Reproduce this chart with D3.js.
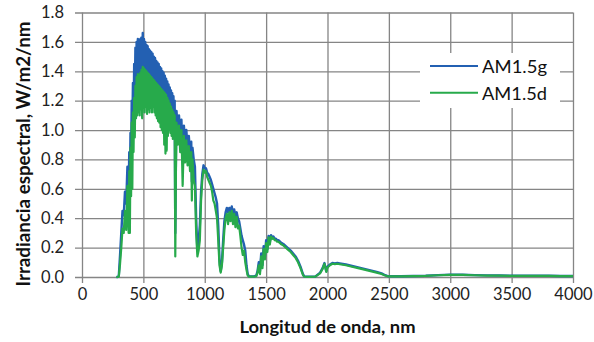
<!DOCTYPE html>
<html><head><meta charset="utf-8">
<script src="https://cdn.jsdelivr.net/npm/d3@7"></script>
<style>body{margin:0;background:#fff} svg{display:block}</style>
</head><body>
<svg id="c" width="594" height="342"></svg>
<script>
const wavelength = [
280,290,295,300,310,320,330,340,350,360,
370,380,385,390,395,400,405,410,415,420,
425,430,435,440,445,450,455,460,465,470,
475,480,485,490,495,500,505,510,515,520,
525,530,535,540,545,550,555,560,565,570,
575,580,585,590,595,600,605,610,615,620,
625,630,635,640,645,650,655,660,665,670,
675,680,685,690,695,700,705,710,715,720,
725,730,735,740,745,750,755,760,765,770,
780,790,800,810,820,830,840,850,860,870,
880,890,895,900,910,920,930,940,950,960,
970,980,990,1000,1010,1020,1030,1040,1050,1060,
1070,1080,1090,1100,1110,1120,1130,1140,1150,1160,
1170,1180,1190,1200,1210,1220,1230,1240,1250,1260,
1270,1280,1290,1300,1310,1320,1330,1340,1350,1360,
1380,1400,1420,1430,1440,1450,1460,1470,1480,1490,
1500,1510,1520,1530,1540,1550,1560,1570,1580,1590,
1600,1620,1640,1660,1680,1700,1720,1740,1760,1780,
1800,1810,1850,1900,1940,1960,1975,1990,2000,2020,
2040,2060,2080,2100,2150,2200,2250,2300,2350,2400,
2440,2470,2490,2500,2600,2700,2800,2900,3000,3100,
3200,3300,3400,3500,3600,3700,3800,3900,4000];

const am15g = [
0,0,0.003,0.01,0.15,0.30,0.45,0.42,0.58,0.50,
0.75,0.58,0.85,0.62,0.98,0.80,1.20,1.00,1.32,1.05,
1.45,1.20,1.56,1.28,1.60,1.34,1.62,1.35,1.61,1.35,
1.62,1.37,1.63,1.39,1.66,1.40,1.62,1.39,1.60,1.38,
1.58,1.37,1.57,1.36,1.55,1.35,1.54,1.34,1.53,1.33,
1.52,1.32,1.50,1.31,1.49,1.30,1.47,1.29,1.46,1.28,
1.45,1.27,1.43,1.26,1.42,1.25,1.40,1.24,1.39,1.23,
1.37,1.22,1.35,1.20,1.33,1.18,1.31,1.16,1.29,1.14,
1.27,1.12,1.25,1.10,1.23,1.08,1.20,0.30,0.80,1.13,
1.00,1.10,0.98,1.07,0.80,1.03,0.92,1.00,0.88,0.96,
0.85,0.92,0.65,0.88,0.80,0.75,0.40,0.18,0.25,0.35,
0.58,0.70,0.76,0.74,0.74,0.71,0.70,0.68,0.66,0.63,
0.60,0.57,0.54,0.50,0.35,0.12,0.04,0.10,0.25,0.38,
0.44,0.47,0.44,0.47,0.44,0.48,0.43,0.46,0.41,0.44,
0.40,0.38,0.33,0.28,0.25,0.22,0.18,0.08,0.02,0.005,
0.004,0.004,0.01,0.04,0.10,0.04,0.16,0.08,0.21,0.14,
0.25,0.19,0.28,0.24,0.285,0.27,0.275,0.26,0.26,0.25,
0.25,0.235,0.225,0.21,0.195,0.18,0.16,0.14,0.11,0.07,
0.02,0.004,0.002,0.003,0.03,0.06,0.095,0.04,0.07,0.085,
0.095,0.092,0.095,0.092,0.085,0.075,0.065,0.055,0.045,0.035,
0.025,0.012,0.006,0.005,0.005,0.007,0.009,0.013,0.016,0.015,
0.013,0.011,0.010,0.009,0.009,0.008,0.008,0.007,0.007];

const am15d = [
0,0,0,0.005,0.09,0.20,0.33,0.30,0.45,0.32,
0.62,0.30,0.72,0.30,0.88,0.55,1.05,0.60,1.12,0.85,
1.22,0.95,1.30,1.08,1.36,1.10,1.38,1.12,1.37,1.10,
1.39,1.14,1.41,1.08,1.43,1.15,1.42,1.12,1.41,1.16,
1.40,1.11,1.39,1.14,1.38,1.12,1.37,1.15,1.36,1.12,
1.35,1.16,1.34,1.12,1.33,1.10,1.32,1.08,1.31,1.06,
1.30,1.05,1.29,1.02,1.28,1.00,1.27,0.98,1.26,0.90,
1.25,0.84,1.24,0.86,1.22,0.96,1.20,1.00,1.18,0.98,
1.16,0.96,1.14,0.94,1.12,0.95,1.10,0.14,0.70,1.05,
0.90,1.03,0.85,1.00,0.62,0.96,0.78,0.93,0.76,0.89,
0.72,0.85,0.52,0.80,0.66,0.62,0.30,0.14,0.18,0.25,
0.52,0.66,0.73,0.71,0.72,0.68,0.66,0.64,0.62,0.58,
0.52,0.50,0.45,0.40,0.25,0.08,0.03,0.08,0.20,0.32,
0.40,0.43,0.36,0.44,0.38,0.45,0.36,0.43,0.34,0.41,
0.33,0.35,0.28,0.20,0.15,0.18,0.10,0.05,0.01,0.003,
0.002,0.002,0.005,0.03,0.08,0.02,0.14,0.06,0.19,0.12,
0.23,0.17,0.27,0.22,0.275,0.26,0.265,0.25,0.25,0.24,
0.24,0.225,0.215,0.20,0.185,0.17,0.15,0.13,0.10,0.06,
0.015,0.003,0.001,0.002,0.025,0.055,0.09,0.035,0.065,0.08,
0.09,0.088,0.09,0.087,0.08,0.07,0.06,0.05,0.04,0.03,
0.02,0.01,0.005,0.004,0.004,0.006,0.008,0.012,0.015,0.014,
0.012,0.010,0.009,0.008,0.008,0.007,0.007,0.006,0.006];

const seriesNames = ["AM1.5g", "AM1.5d"];
const xTicks = [0,500,1000,1500,2000,2500,3000,3500,4000];
const yTicks = [0,0.2,0.4,0.6,0.8,1.0,1.2,1.4,1.6,1.8];
const xTitle = "Longitud de onda, nm";
const yTitle = "Irradiancia espectral, W/m2/nm";

const colors = {"AM1.5g": "#2360b2", "AM1.5d": "#27aa4b"};
const FONT = "Lato, 'Open Sans', sans-serif";

const L = 82, R = 573, T = 12.5, B = 277;
const svg = d3.select("#c");
const x = d3.scaleLinear().domain([0, 4000]).range([L, R]);
const y = d3.scaleLinear().domain([0, 1.8]).range([B, T]);

// Y axis + horizontal grid
const gy = svg.append("g").attr("transform", `translate(${L},0)`)
  .call(d3.axisLeft(y).tickValues(yTicks).tickFormat(d3.format(".1f")).tickSize(-(R - L)).tickPadding(18));
gy.select(".domain").remove();
gy.selectAll(".tick line").attr("x1", -7).attr("x2", R - L).attr("stroke", "#858585").attr("stroke-width", 1.3);
gy.selectAll(".tick text").attr("font-family", FONT).attr("font-size", 16.5).attr("fill", "#222");

// X axis + vertical grid
const gx = svg.append("g").attr("transform", `translate(0,${B})`)
  .call(d3.axisBottom(x).tickValues(xTicks).tickFormat(d3.format("d")).tickSize(-(B - T)).tickPadding(11));
gx.select(".domain").remove();
gx.selectAll(".tick line").attr("y1", 6).attr("y2", -(B - T)).attr("stroke", "#858585").attr("stroke-width", 1.3);
gx.selectAll(".tick text").attr("font-family", FONT).attr("font-size", 16.5).attr("fill", "#222");

// Series
const rows = wavelength.map((w, i) => ({w, g: am15g[i], d: am15d[i]}));
const lineG = d3.line().x(d => x(d.w)).y(d => y(d.g));
const lineD = d3.line().x(d => x(d.w)).y(d => y(d.d));
svg.append("path").datum(rows).attr("d", lineG).attr("fill", "none")
  .attr("stroke", colors["AM1.5g"]).attr("stroke-width", 2.4).attr("stroke-linejoin", "round");
svg.append("path").datum(rows).attr("d", lineD).attr("fill", "none")
  .attr("stroke", colors["AM1.5d"]).attr("stroke-width", 2.2).attr("stroke-linejoin", "round");

// Legend
const lg = svg.append("g");
lg.append("rect").attr("x", 420).attr("y", 53).attr("width", 140).attr("height", 55).attr("fill", "#fff");
seriesNames.forEach((name, i) => {
  const yy = 66 + i * 26.7;
  lg.append("line").attr("x1", 430).attr("x2", 478).attr("y1", yy).attr("y2", yy)
    .attr("stroke", colors[name]).attr("stroke-width", 2);
  lg.append("text").attr("x", 482).attr("y", yy).attr("dominant-baseline", "central")
    .attr("font-family", FONT).attr("font-size", 18).attr("fill", "#111")
    .attr("textLength", 65).attr("lengthAdjust", "spacingAndGlyphs").text(name);
});

// Titles
svg.append("text").attr("x", (L + R) / 2).attr("y", 333).attr("text-anchor", "middle")
  .attr("font-family", FONT).attr("font-weight", "bold").attr("font-size", 17).attr("fill", "#111")
  .attr("textLength", 176).attr("lengthAdjust", "spacingAndGlyphs").text(xTitle);
svg.append("text").attr("transform", "translate(23,154) rotate(-90)").attr("text-anchor", "middle")
  .attr("dominant-baseline", "central")
  .attr("font-family", FONT).attr("font-weight", "bold").attr("font-size", 18).attr("fill", "#111")
  .attr("textLength", 265).attr("lengthAdjust", "spacingAndGlyphs").text(yTitle);
</script>
</body></html>
